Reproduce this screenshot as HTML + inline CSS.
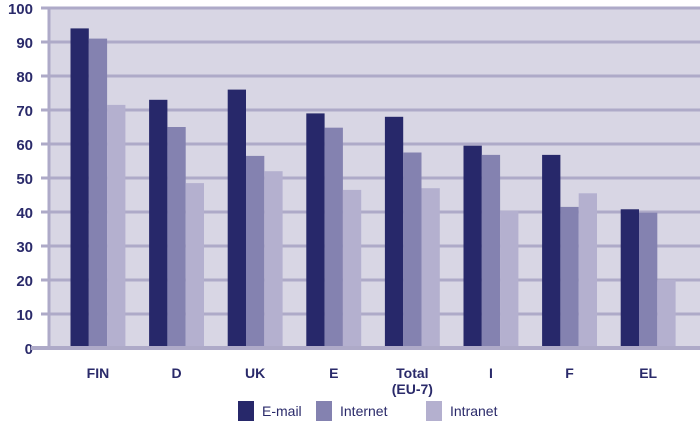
<!DOCTYPE html>
<html><head><meta charset="utf-8"><style>
body{margin:0;background:#fff;width:700px;height:423px;overflow:hidden;font-family:"Liberation Sans",sans-serif}
</style></head><body>
<svg width="700" height="423" id="c"></svg>
<script>
const categories=["FIN","D","UK","E","Total|(EU-7)","I","F","EL"];
const email=[94,73,76,69,68,59.5,56.8,40.8];
const internet=[91,65,56.5,64.8,57.5,56.8,41.5,39.8];
const intranet=[71.5,48.5,52,46.5,47,40.3,45.5,20];
const ticks=[0,10,20,30,40,50,60,70,80,90,100];
const seriesNames=["E-mail","Internet","Intranet"];
const colors=["#27286a","#8482b0","#b4b0cf"];
const svg=document.getElementById('c');const NS="http://www.w3.org/2000/svg";
function el(t,a,p){const e=document.createElementNS(NS,t);for(const k in a)e.setAttribute(k,a[k]);(p||svg).appendChild(e);return e;}
const y=v=>348-v*3.4;
const x=i=>70.5+i*78.6;
const bw=18.3;
let bg=el('rect',{x:49,y:8,width:651,height:340,fill:'#d8d6e4'});


el('line',{x1:49,y1:8,x2:49,y2:348,stroke:'#aeaac8','stroke-width':3});
ticks.forEach(t=>{
 const g=el('line',{x1:41,y1:y(t),x2:700,y2:y(t),stroke:'#aeaac8','stroke-width':3});
 
 
 const tx=el('text',{x:33,y:y(t)+6,'text-anchor':'end','font-size':15,'font-weight':'bold',fill:'#2a2a6a'});
 tx.textContent=t;
 
 
});
const data=[email,internet,intranet];
categories.forEach((c,i)=>{
 data.forEach((s,j)=>{
  const r=el('rect',{x:x(i)+j*bw,y:y(s[i]),width:bw,height:348-y(s[i]),fill:colors[j]});
  
  
 });
 const parts=c.split('|');
 parts.forEach((p,k)=>{
  const t=el('text',{x:x(i)+bw*1.5,y:378+k*16,'text-anchor':'middle','font-size':14,'font-weight':'bold',fill:'#2a2a6a'});
  t.textContent=p;
  
  
 });
});
el('line',{x1:31,y1:348,x2:700,y2:348,stroke:'#aeaac8','stroke-width':4});
const lx=[238,316,426];
seriesNames.forEach((n,j)=>{
 const r=el('rect',{x:lx[j],y:401,width:16,height:20,fill:colors[j]});
 
 
 const t=el('text',{x:lx[j]+24,y:416,'font-size':14,fill:'#2a2a6a'});
 t.textContent=n;
 
 
});
</script>
</body></html>
